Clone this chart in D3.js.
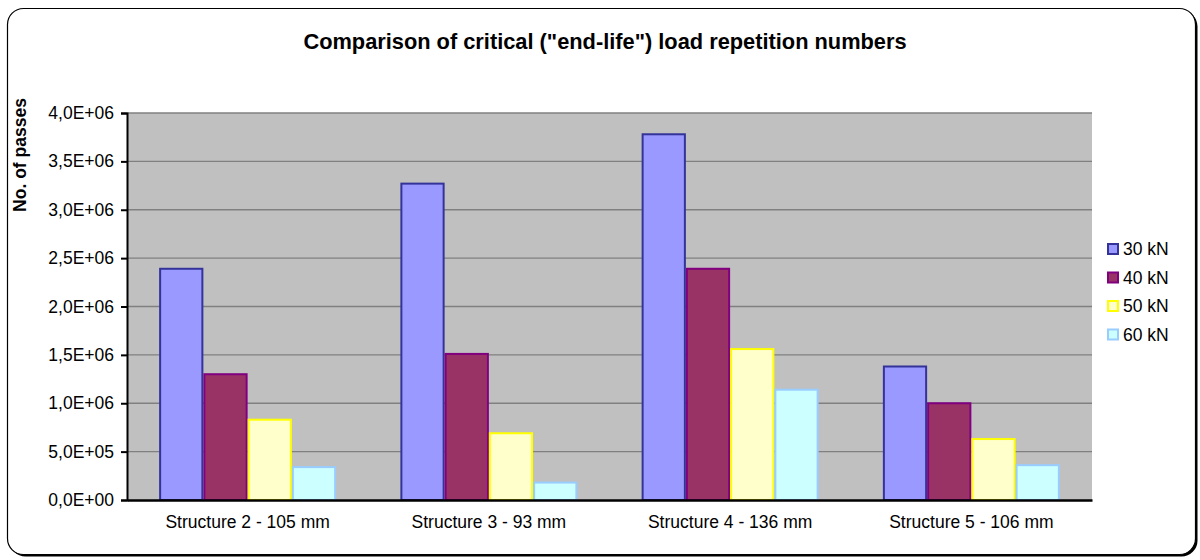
<!DOCTYPE html>
<html>
<head>
<meta charset="utf-8">
<script src="https://cdn.jsdelivr.net/npm/d3@7"></script>
<style>
  html, body { margin: 0; padding: 0; background: #fff; }
  svg { display: block; font-family: "Liberation Sans", Arial, sans-serif; }
</style>
</head>
<body>
<svg id="chart" width="1200" height="560"></svg>
<script>
const categories = ["Structure 2 - 105 mm", "Structure 3 - 93 mm", "Structure 4 - 136 mm", "Structure 5 - 106 mm"];
const seriesNames = ["30 kN", "40 kN", "50 kN", "60 kN"];
const values30 = [2390000, 3270000, 3780000, 1380000];
const values40 = [1300000, 1510000, 2390000, 1000000];
const values50 = [830000, 690000, 1560000, 630000];
const values60 = [340000, 180000, 1140000, 360000];
const yTicks = [0, 500000, 1000000, 1500000, 2000000, 2500000, 3000000, 3500000, 4000000];
const fills = ["#9999FF", "#993366", "#FFFFCC", "#CCFFFF"];
const strokes = ["#333399", "#800080", "#FFFF00", "#99CCFF"];

const seriesValues = [values30, values40, values50, values60];

const svg = d3.select("#chart");
const plot = { left: 127, right: 1092, top: 113, bottom: 500 };

// outer frame with shadow
svg.append("rect").attr("x", 9.5).attr("y", 10.5).attr("width", 1188).attr("height", 546)
  .attr("rx", 16).attr("fill", "#000");
svg.append("rect").attr("x", 7.5).attr("y", 8.5).attr("width", 1188).attr("height", 546)
  .attr("rx", 16).attr("fill", "#fff").attr("stroke", "#000").attr("stroke-width", 1.2);

// title
svg.append("text").attr("x", 605).attr("y", 49).attr("text-anchor", "middle")
  .attr("font-size", 21.8).attr("font-weight", "bold").attr("fill", "#000")
  .text('Comparison of critical ("end-life") load repetition numbers');

const x0 = d3.scaleBand().domain(categories).range([plot.left, plot.right]).padding(0);
const x1 = d3.scaleBand().domain(seriesNames).range([0, x0.bandwidth()]).paddingInner(0).paddingOuter(0.726);
const y = d3.scaleLinear().domain([0, 4000000]).range([plot.bottom, plot.top]);

// plot background
svg.append("rect").attr("x", plot.left).attr("y", plot.top)
  .attr("width", plot.right - plot.left).attr("height", plot.bottom - plot.top)
  .attr("fill", "#C0C0C0");

// gridlines
svg.append("g").selectAll("line").data(yTicks.filter(d => d > 0)).join("line")
  .attr("x1", plot.left).attr("x2", plot.right)
  .attr("y1", d => y(d)).attr("y2", d => y(d))
  .attr("stroke", "#808080").attr("stroke-width", 1.3);

// bars
const groups = svg.append("g").selectAll("g").data(categories).join("g")
  .attr("transform", c => `translate(${x0(c)},0)`);
groups.selectAll("rect").data((c, ci) => seriesNames.map((s, si) => ({ s, si, v: seriesValues[si][ci] })))
  .join("rect")
  .attr("x", d => x1(d.s) + 1)
  .attr("width", x1.bandwidth() - 2)
  .attr("y", d => y(d.v))
  .attr("height", d => y(0) - y(d.v))
  .attr("fill", d => fills[d.si])
  .attr("stroke", d => strokes[d.si])
  .attr("stroke-width", 2);

// y axis
const fmt = v => {
  const [m, e] = v.toExponential(1).split("e");
  const exp = parseInt(e, 10);
  return m.replace(".", ",") + "E" + (exp < 0 ? "-" : "+") + String(Math.abs(exp)).padStart(2, "0");
};
const yAxis = svg.append("g").attr("transform", `translate(${plot.left},0)`)
  .call(d3.axisLeft(y).tickValues(yTicks).tickFormat(fmt).tickSize(6).tickPadding(7));
yAxis.select(".domain").attr("stroke", "#000").attr("stroke-width", 2);
yAxis.selectAll(".tick line").attr("stroke", "#000").attr("stroke-width", 2);
yAxis.selectAll(".tick text").attr("font-size", 17.5).attr("fill", "#000")
  .attr("font-family", '"Liberation Sans", Arial, sans-serif');

// x axis
const xAxis = svg.append("g").attr("transform", `translate(0,${plot.bottom})`)
  .call(d3.axisBottom(x0).tickSize(0).tickPadding(16));
xAxis.select(".domain").attr("stroke", "#000").attr("stroke-width", 2.5);
xAxis.selectAll(".tick text").attr("font-size", 17.5).attr("fill", "#000")
  .attr("font-family", '"Liberation Sans", Arial, sans-serif');

// y axis title
svg.append("text").attr("transform", "translate(26,155) rotate(-90)")
  .attr("text-anchor", "middle").attr("font-size", 17.5).attr("font-weight", "bold")
  .text("No. of passes");

// legend
const legend = svg.append("g").selectAll("g").data(seriesNames).join("g")
  .attr("transform", (d, i) => `translate(1107,${249 + i * 28.5})`);
legend.append("rect").attr("x", 1).attr("y", -5).attr("width", 10).attr("height", 10)
  .attr("fill", (d, i) => fills[i]).attr("stroke", (d, i) => strokes[i]).attr("stroke-width", 2);
legend.append("text").attr("x", 16).attr("y", 6).attr("font-size", 17.5)
  .text(d => d);
</script>
</body>
</html>
